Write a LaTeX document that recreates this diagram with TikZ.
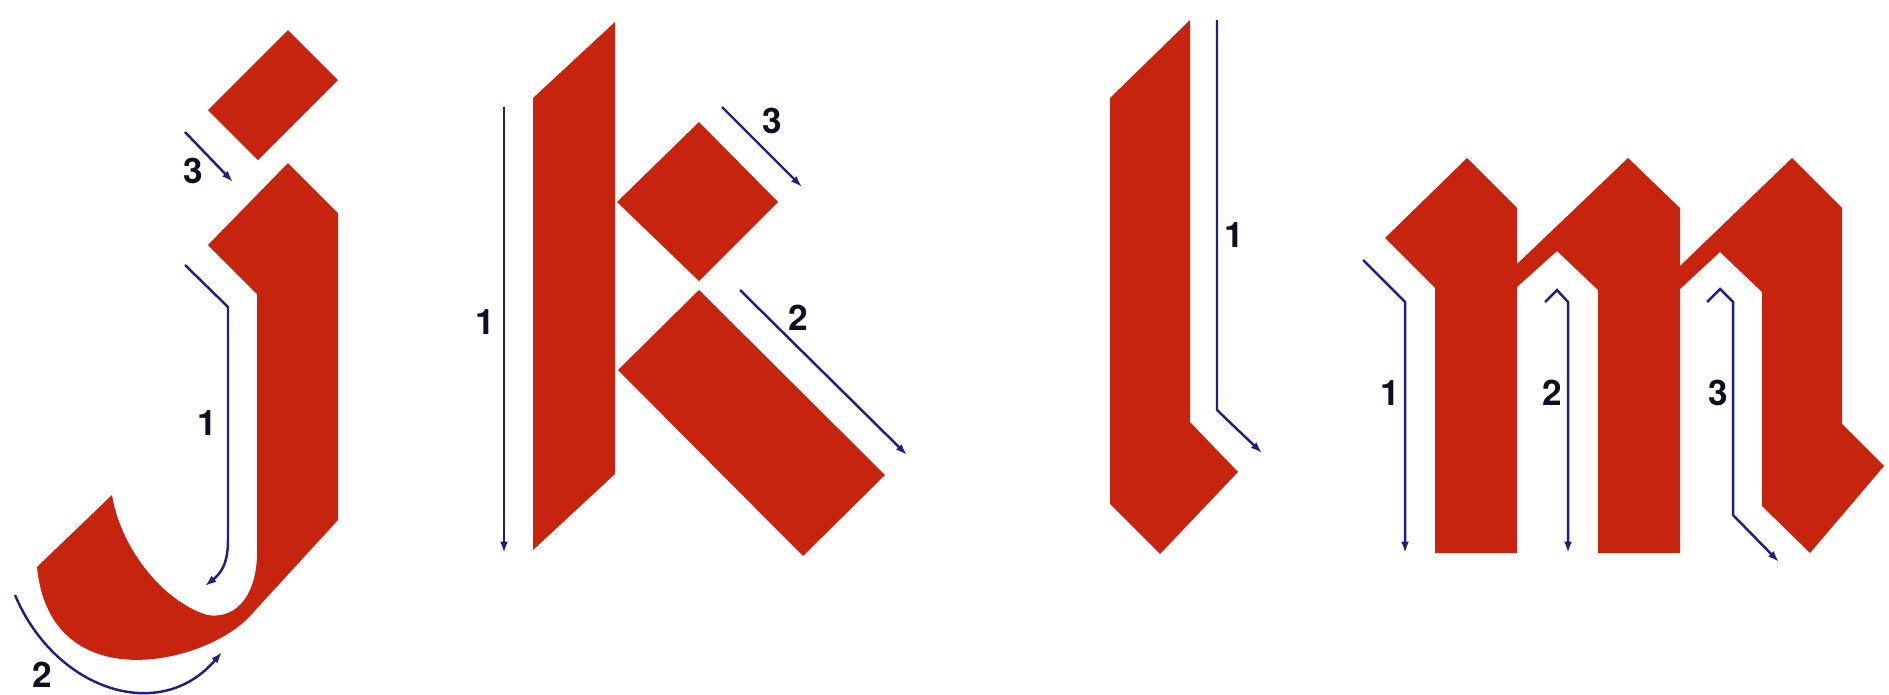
\documentclass[tikz,border=0pt]{standalone}
\usepackage{fontspec}
\newfontfamily\numfont{TeX Gyre Heros}
\usetikzlibrary{arrows.meta}
\definecolor{ink}{RGB}{198,36,14}
\definecolor{pen}{RGB}{28,32,130}
\definecolor{numc}{RGB}{15,15,35}
\begin{document}
\begin{tikzpicture}[x=0.02cm,y=-0.02cm,
  glyph/.style={fill=ink},
  guide/.style={draw=pen,line width=1.4pt,line join=miter,-{Latex[length=6.5pt,width=4.5pt]}},
  num/.style={font=\numfont\bfseries\fontsize{20}{22}\selectfont,text=numc,inner sep=0pt}]
\useasboundingbox (0,0) rectangle (1889,694);

% ---------- letter j ----------
\fill[glyph] (288,30) -- (338,80) -- (258,160) -- (208,110) -- cycle;
\fill[glyph] (288,163) -- (338,213) -- (338,520) -- (250,616)
  .. controls (205,665) and (50,700) .. (37,567)
  -- (112,495)
  .. controls (120,545) and (160,600) .. (207,615)
  .. controls (240,620) and (257,590) .. (257,553)
  -- (257,294) -- (208,245) -- cycle;

\coordinate (j3a) at (185,132); \coordinate (j3b) at (233,182);
\draw[guide] (j3a) -- (j3b);
\node[num] (j3) at (193,171) {3};

\coordinate (j1a) at (185,265); \coordinate (j1b) at (228,307);
\coordinate (j1c) at (228,540); \coordinate (j1d) at (205,586);
\draw[guide] (j1a) -- (j1b) -- (j1c) .. controls (228,565) and (220,574) .. (j1d);
\node[num] (j1) at (207,423) {1};

\coordinate (j2a) at (15,595); \coordinate (j2b) at (222,652);
\draw[guide] (j2a) .. controls (55,690) and (160,725) .. (j2b);
\node[num] (j2) at (42,675) {2};

% ---------- letter k ----------
\fill[glyph] (615,22) -- (615,474) -- (533,550) -- (533,98) -- cycle;
\fill[glyph] (699,122) -- (778,202) -- (699,281) -- (617,202) -- cycle;
\fill[glyph] (699,290) -- (885,475) -- (803,556) -- (618,370) -- cycle;

\coordinate (k1a) at (504,107); \coordinate (k1b) at (504,553);
\draw[guide] (k1a) -- (k1b);
\node[num] (k1) at (485,322) {1};

\coordinate (k3a) at (722,107); \coordinate (k3b) at (802,187);
\draw[guide] (k3a) -- (k3b);
\node[num] (k3) at (772,121) {3};

\coordinate (k2a) at (740,290); \coordinate (k2b) at (907,455);
\draw[guide] (k2a) -- (k2b);
\node[num] (k2) at (798,318) {2};

% ---------- letter l ----------
\fill[glyph] (1190,20) -- (1190,422) -- (1238,472) -- (1160,554)
  -- (1110,504) -- (1110,98) -- cycle;

\coordinate (l1a) at (1217,20); \coordinate (l1b) at (1217,410);
\coordinate (l1c) at (1262,453);
\draw[guide] (l1a) -- (l1b) -- (l1c);
\node[num] (l1) at (1234,235) {1};

% ---------- letter m ----------
\fill[glyph] (1467,158) -- (1517,208) -- (1517,264) -- (1628,158)
  -- (1680,208) -- (1680,266) -- (1792,158) -- (1842,208)
  -- (1842,424) -- (1884,466) -- (1810,553) -- (1762,506)
  -- (1762,292) -- (1720,252) -- (1680,289) -- (1680,553)
  -- (1598,553) -- (1598,290) -- (1557,251) -- (1517,287)
  -- (1517,553) -- (1435,553) -- (1435,288) -- (1385,238) -- cycle;

\coordinate (m1a) at (1363,260); \coordinate (m1b) at (1405,302);
\coordinate (m1c) at (1405,553);
\draw[guide] (m1a) -- (m1b) -- (m1c);
\node[num] (m1) at (1390,393) {1};

\coordinate (m2a) at (1545,302); \coordinate (m2b) at (1557,290);
\coordinate (m2c) at (1568,302); \coordinate (m2d) at (1568,553);
\draw[guide] (m2a) -- (m2b) -- (m2c) -- (m2d);
\node[num] (m2) at (1552,393) {2};

\coordinate (m3a) at (1707,302); \coordinate (m3b) at (1720,289);
\coordinate (m3c) at (1733,302); \coordinate (m3d) at (1733,515);
\coordinate (m3e) at (1779,562);
\draw[guide] (m3a) -- (m3b) -- (m3c) -- (m3d) -- (m3e);
\node[num] (m3) at (1718,393) {3};
\end{tikzpicture}
\end{document}
